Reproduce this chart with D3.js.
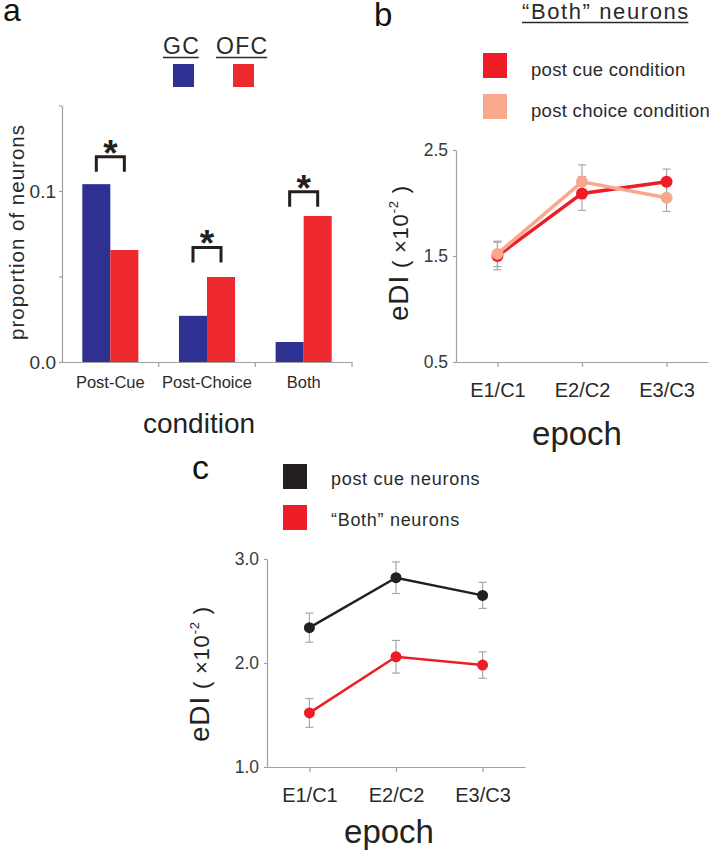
<!DOCTYPE html>
<html>
<head>
<meta charset="utf-8">
<script src="https://cdn.jsdelivr.net/npm/d3@7"></script>
<style>
  html, body { margin: 0; padding: 0; background: #fff; }
  svg { display: block; font-family: "Liberation Sans", Arial, Helvetica, sans-serif; }
</style>
</head>
<body>
<svg id="chart" width="715" height="853"></svg>
<script>
// ---------- Data ----------
// Panel a
const conditionsA = ["Post-Cue", "Post-Choice", "Both"];
const regionsA = ["GC", "OFC"];
const gcValues = [0.104, 0.027, 0.0117];
const ofcValues = [0.0655, 0.0497, 0.0854];
const bracketLevelsA = [0.12, 0.067, 0.0995];
const yTicksA = [0, 0.05, 0.1, 0.15];
const yTickLabelsA = ["0.0", "", "0.1", ""];

// Panel b
const epochs = ["E1/C1", "E2/C2", "E3/C3"];
const bPostCue = [1.5, 2.09, 2.2];
const bPostCueErr = [0.13, 0.16, 0.12];
const bPostChoice = [1.52, 2.2, 2.05];
const bPostChoiceErr = [0.12, 0.16, 0.13];
const yTicksB = [0.5, 1.5, 2.5];

// Panel c
const cPostCue = [2.34, 2.82, 2.65];
const cPostCueErr = [0.14, 0.152, 0.125];
const cBoth = [1.52, 2.06, 1.98];
const cBothErr = [0.138, 0.157, 0.127];
const yTicksC = [1.0, 2.0, 3.0];

// ---------- Styles ----------
const BLUE = "#2e3192", RED_A = "#ee2a2f";
const RED = "#ee1c25", PINK = "#f9a88d", BLACK = "#231f20";
const AXIS = "#a0a0a0", TXT = "#333";

const svg = d3.select("#chart");
svg.append("rect").attr("width", 715).attr("height", 853).attr("fill", "#fff");

function styleAxis(g) {
  g.selectAll("path.domain").attr("stroke", AXIS).attr("stroke-width", 1.2);
  g.selectAll(".tick line").attr("stroke", AXIS).attr("stroke-width", 1.2);
  g.selectAll(".tick text").attr("fill", TXT).attr("font-family", "Liberation Sans, Arial, sans-serif");
}

// ================= Panel a =================
const A = svg.append("g");
const xA = d3.scaleBand().domain(conditionsA).range([62, 352]).paddingInner(0.42).paddingOuter(0.21);
const xSub = d3.scaleBand().domain(regionsA).range([0, xA.bandwidth()]);
const yA = d3.scaleLinear().domain([0, 0.15]).range([362, 105.5]);

// y axis
const yAxisA = A.append("g").attr("transform", "translate(62,0)")
  .call(d3.axisLeft(yA).tickValues(yTicksA).tickSize(3).tickSizeOuter(0).tickPadding(3)
    .tickFormat((d, i) => yTickLabelsA[i]));
styleAxis(yAxisA);
yAxisA.selectAll(".tick text").attr("font-size", 19);

// x axis line and boundary ticks
const xAxisA = A.append("g").attr("transform", "translate(0,362)")
  .call(d3.axisBottom(xA).tickSize(0).tickSizeOuter(0).tickPadding(14));
styleAxis(xAxisA);
xAxisA.selectAll(".tick text").attr("font-size", 16.5).attr("fill", "#2a2a2a");
const boundaries = d3.range(1, conditionsA.length + 1).map(i => xA.range()[0] + i * xA.step());
xAxisA.selectAll("line.bnd").data(boundaries).join("line").attr("class", "bnd")
  .attr("x1", d => d).attr("x2", d => d).attr("y1", 0).attr("y2", 5)
  .attr("stroke", AXIS).attr("stroke-width", 1.2);

// bars
const barData = [];
conditionsA.forEach((c, i) => {
  barData.push({ cond: c, region: "GC", value: gcValues[i] });
  barData.push({ cond: c, region: "OFC", value: ofcValues[i] });
});
A.selectAll("rect.bar").data(barData).join("rect").attr("class", "bar")
  .attr("x", d => xA(d.cond) + xSub(d.region))
  .attr("width", xSub.bandwidth())
  .attr("y", d => yA(d.value))
  .attr("height", d => yA(0) - yA(d.value))
  .attr("fill", d => d.region === "GC" ? BLUE : RED_A);

// significance brackets
conditionsA.forEach((c, i) => {
  const x0 = xA(c) + xSub("GC") + xSub.bandwidth() / 2;
  const x1 = xA(c) + xSub("OFC") + xSub.bandwidth() / 2;
  const yt = yA(bracketLevelsA[i]);
  A.append("path")
    .attr("d", `M${x0},${yt + 15}V${yt}H${x1}V${yt + 15}`)
    .attr("fill", "none").attr("stroke", BLACK).attr("stroke-width", 3);
  A.append("text").attr("x", (x0 + x1) / 2).attr("y", yt + 9)
    .attr("text-anchor", "middle").attr("font-size", 37).attr("font-weight", "bold")
    .attr("fill", BLACK).text("*");
});

// legend a
const legA = [{ name: "GC", x: 163, sx: 173, color: BLUE }, { name: "OFC", x: 216, sx: 233, color: RED_A }];
legA.forEach(l => {
  const t = A.append("text").attr("x", l.x).attr("y", 54).attr("font-size", 23)
    .attr("letter-spacing", 1.3).attr("fill", "#2a2a2a").text(l.name);
  const w = t.node().getComputedTextLength();
  A.append("line").attr("x1", l.x).attr("x2", l.x + w - 1.3).attr("y1", 57.5).attr("y2", 57.5)
    .attr("stroke", "#2a2a2a").attr("stroke-width", 1.5);
  A.append("rect").attr("x", l.sx).attr("y", 64).attr("width", 21).attr("height", 23).attr("fill", l.color);
});

// labels a
A.append("text").attr("x", 3).attr("y", 21).attr("font-size", 32).attr("fill", "#111").text("a");
A.append("text").attr("transform", "translate(24,232) rotate(-90)").attr("text-anchor", "middle")
  .attr("font-size", 20.5).attr("letter-spacing", 1.0).attr("fill", "#2a2a2a").text("proportion of neurons");
A.append("text").attr("x", 199).attr("y", 433).attr("text-anchor", "middle")
  .attr("font-size", 28).attr("fill", "#222").text("condition");

// ================= line panels helper =================
function eDILabel(g, x, y) {
  const t = g.append("text").attr("transform", `translate(${x},${y}) rotate(-90)`)
    .attr("fill", "#222").attr("letter-spacing", 0.8);
  t.append("tspan").attr("font-size", 28).text("eDI");
  t.append("tspan").attr("font-size", 22).text(" ( ×10");
  t.append("tspan").attr("font-size", 13).attr("dy", -10).text("-2");
  t.append("tspan").attr("font-size", 22).attr("dy", 10).text(" )");
}

function linePanel(g, opts) {
  const x = d3.scalePoint().domain(epochs).range(opts.xr).padding(0.49);
  const y = d3.scaleLinear().domain(opts.yd).range(opts.yr);
  const ya = g.append("g").attr("transform", `translate(${opts.xr[0]},0)`)
    .call(d3.axisLeft(y).tickValues(opts.yTicks).tickSize(3).tickSizeOuter(0).tickPadding(5)
      .tickFormat(d3.format(".1f")));
  styleAxis(ya);
  ya.selectAll(".tick text").attr("font-size", 17.5).attr("fill", "#3a3a3a");
  const xa = g.append("g").attr("transform", `translate(0,${opts.yr[0]})`)
    .call(d3.axisBottom(x).tickSize(5).tickSizeOuter(0).tickPadding(opts.xPad));
  styleAxis(xa);
  xa.selectAll(".tick text").attr("font-size", 20).attr("fill", "#2a2a2a");

  // error bars
  opts.series.forEach(s => {
    const eg = g.append("g");
    epochs.forEach((e, i) => {
      const cx = x(e), lo = y(s.values[i] - s.err[i]), hi = y(s.values[i] + s.err[i]);
      eg.append("line").attr("x1", cx).attr("x2", cx).attr("y1", lo).attr("y2", hi)
        .attr("stroke", "#a8a8a8").attr("stroke-width", 1.2);
      [lo, hi].forEach(yy => eg.append("line").attr("x1", cx - 4).attr("x2", cx + 4)
        .attr("y1", yy).attr("y2", yy).attr("stroke", "#a8a8a8").attr("stroke-width", 1.2));
    });
  });
  // lines and points
  opts.series.forEach(s => {
    const pts = epochs.map((e, i) => [x(e), y(s.values[i])]);
    g.append("path").attr("d", d3.line()(pts)).attr("fill", "none")
      .attr("stroke", s.color).attr("stroke-width", opts.lw);
    g.selectAll(null).data(pts).join("circle")
      .attr("cx", d => d[0]).attr("cy", d => d[1]).attr("r", opts.r).attr("fill", s.color);
  });
  return { x, y };
}

// ================= Panel b =================
const B = svg.append("g");
B.append("text").attr("x", 374).attr("y", 26).attr("font-size", 33).attr("fill", "#111").text("b");
const tB = B.append("text").attr("x", 522).attr("y", 19).attr("font-size", 22).attr("letter-spacing", 1.6)
  .attr("fill", "#2a2a2a").text("“Both” neurons");
const wB = tB.node().getComputedTextLength();
B.append("line").attr("x1", 522).attr("x2", 522 + wB - 1.6).attr("y1", 22.5).attr("y2", 22.5)
  .attr("stroke", "#2a2a2a").attr("stroke-width", 1.5);

const legB = [{ name: "post cue condition", color: RED, y: 53 }, { name: "post choice condition", color: PINK, y: 94 }];
legB.forEach(l => {
  B.append("rect").attr("x", 483).attr("y", l.y).attr("width", 24).attr("height", 25).attr("fill", l.color);
  B.append("text").attr("x", 531).attr("y", l.y + 22.5).attr("font-size", 18.5).attr("letter-spacing", 0.3)
    .attr("fill", "#2a2a2a").text(l.name);
});

linePanel(B, {
  xr: [456, 708], yd: [0.5, 2.5], yr: [362, 150], yTicks: yTicksB, xPad: 16, lw: 3.5, r: 6,
  series: [
    { values: bPostCue, err: bPostCueErr, color: RED },
    { values: bPostChoice, err: bPostChoiceErr, color: PINK }
  ]
});
eDILabel(B, 408, 321);
B.append("text").attr("x", 577).attr("y", 445).attr("text-anchor", "middle")
  .attr("font-size", 33).attr("fill", "#222").text("epoch");

// ================= Panel c =================
const C = svg.append("g");
C.append("text").attr("x", 192).attr("y", 479).attr("font-size", 34).attr("fill", "#111").text("c");
const legC = [{ name: "post cue neurons", color: BLACK, y: 464 }, { name: "“Both” neurons", color: RED, y: 505 }];
legC.forEach(l => {
  C.append("rect").attr("x", 283).attr("y", l.y).attr("width", 24).attr("height", 25).attr("fill", l.color);
  C.append("text").attr("x", 331).attr("y", l.y + 21).attr("font-size", 18).attr("letter-spacing", 0.7)
    .attr("fill", "#2a2a2a").text(l.name);
});

linePanel(C, {
  xr: [267, 525], yd: [1.0, 3.0], yr: [767, 559], yTicks: yTicksC, xPad: 16, lw: 2.5, r: 5.5,
  series: [
    { values: cPostCue, err: cPostCueErr, color: BLACK },
    { values: cBoth, err: cBothErr, color: RED }
  ]
});
eDILabel(C, 209, 742);
C.append("text").attr("x", 389).attr("y", 843).attr("text-anchor", "middle")
  .attr("font-size", 33).attr("fill", "#222").text("epoch");
</script>
</body>
</html>
